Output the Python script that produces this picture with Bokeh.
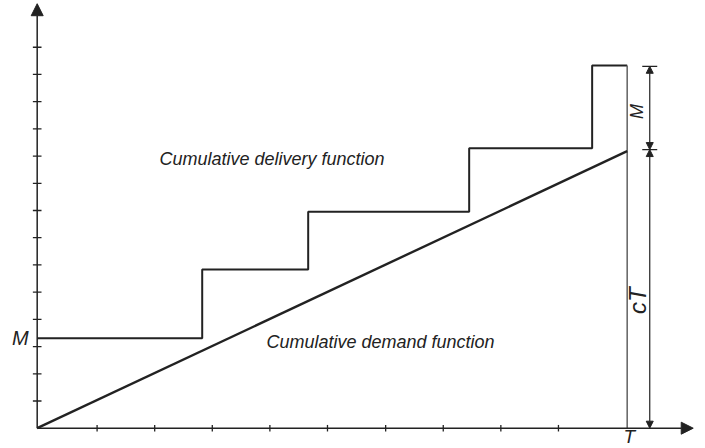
import math
from bokeh.plotting import figure
from bokeh.models import Arrow, NormalHead, ColumnDataSource, Range1d, Label
from bokeh.embed import file_html
from bokeh.resources import INLINE

# ---- data (in axis tick units) ----
x_ticks = [1.04, 2.04, 3.04, 4.04, 5.04, 6.05, 7.05, 8.05, 9.05]
y_ticks = [1, 2, 3, 4, 5, 6, 7, 8, 9, 10, 11, 12, 13, 14]
T = 10.243                      # end of horizon
M = 3.31                        # order quantity
cT = 10.18                      # cumulative demand at T
step_x = [0, 2.865, 4.705, 7.50, 9.635, T]           # delivery instants
step_y = [M, 5.83, 7.95, 10.29, 13.33, 13.33]         # cumulative delivery levels
dim_x = 10.635
dim_levels = [13.30, 10.24, 0]  # top of M, top of cT, origin
x_axis_end = 11.39
y_axis_end = 15.60

INK = "#222222"
FONT = "Liberation Sans"

p = figure(width=705, height=448,
           x_range=Range1d(-0.637, 11.603), y_range=Range1d(-0.746, 15.718),
           x_axis_type=None, y_axis_type=None,
           output_backend="svg", toolbar_location=None, min_border=0)
p.grid.visible = False
p.outline_line_color = None
p.background_fill_color = "white"
p.border_fill_color = "white"

# axes with arrows
p.add_layout(Arrow(x_start=0, y_start=0, x_end=0, y_end=y_axis_end,
                   line_color=INK, line_width=1.5,
                   end=NormalHead(size=12, fill_color=INK, line_color=INK, line_width=1)))
p.add_layout(Arrow(x_start=0, y_start=0, x_end=x_axis_end, y_end=0,
                   line_color=INK, line_width=1.5,
                   end=NormalHead(size=12, fill_color=INK, line_color=INK, line_width=1)))

# tick marks
p.segment(x0=[-0.075] * len(y_ticks), x1=[0.075] * len(y_ticks), y0=y_ticks, y1=y_ticks,
          line_color=INK, line_width=1.3)
p.segment(x0=x_ticks, x1=x_ticks, y0=[-0.12] * len(x_ticks), y1=[0.12] * len(x_ticks),
          line_color=INK, line_width=1.3)

# cumulative delivery (staircase)
p.step(step_x, step_y, mode="after", line_color=INK, line_width=2.0)
# vertical line at T
p.segment(x0=[T], y0=[0], x1=[T], y1=[step_y[-1]], line_color="#555555", line_width=1.4)
# cumulative demand
p.line([0, T], [0, cT], line_color=INK, line_width=2.4)

# dimension lines on the right
p.segment(x0=[dim_x - 0.13] * 2, x1=[dim_x + 0.13] * 2, y0=dim_levels[:2], y1=dim_levels[:2],
          line_color=INK, line_width=1.2)
dims = ColumnDataSource(dict(xs=[dim_x, dim_x], ys=[dim_levels[1], dim_levels[1]],
                             xe=[dim_x, dim_x], ye=[dim_levels[0], dim_levels[2]]))
p.add_layout(Arrow(source=dims, x_start="xs", y_start="ys", x_end="xe", y_end="ye",
                   line_color=INK, line_width=1.2,
                   start=NormalHead(size=7, fill_color=INK, line_color=INK, line_width=1),
                   end=NormalHead(size=7, fill_color=INK, line_color=INK, line_width=1)))

def lab(x, y, text, size, align="center", baseline="alphabetic", angle=0.0):
    p.add_layout(Label(x=x, y=y, text=text, text_font=FONT, text_font_style="italic",
                       text_font_size=f"{size}px", text_color=INK, text_align=align,
                       text_baseline=baseline, angle=angle))

lab(4.076, 9.91, "Cumulative delivery function", 18)
lab(5.96, 3.18, "Cumulative demand function", 18)
lab(-0.146, 3.30, "M", 20, align="right")
lab(10.28, -0.30, "T", 19)
lab(10.42, 11.64, "M", 18, baseline="middle", angle=math.pi / 2)
lab(10.42, 4.69, "cT", 24, baseline="middle", angle=math.pi / 2)

open("out.html", "w").write(file_html(p, INLINE))
